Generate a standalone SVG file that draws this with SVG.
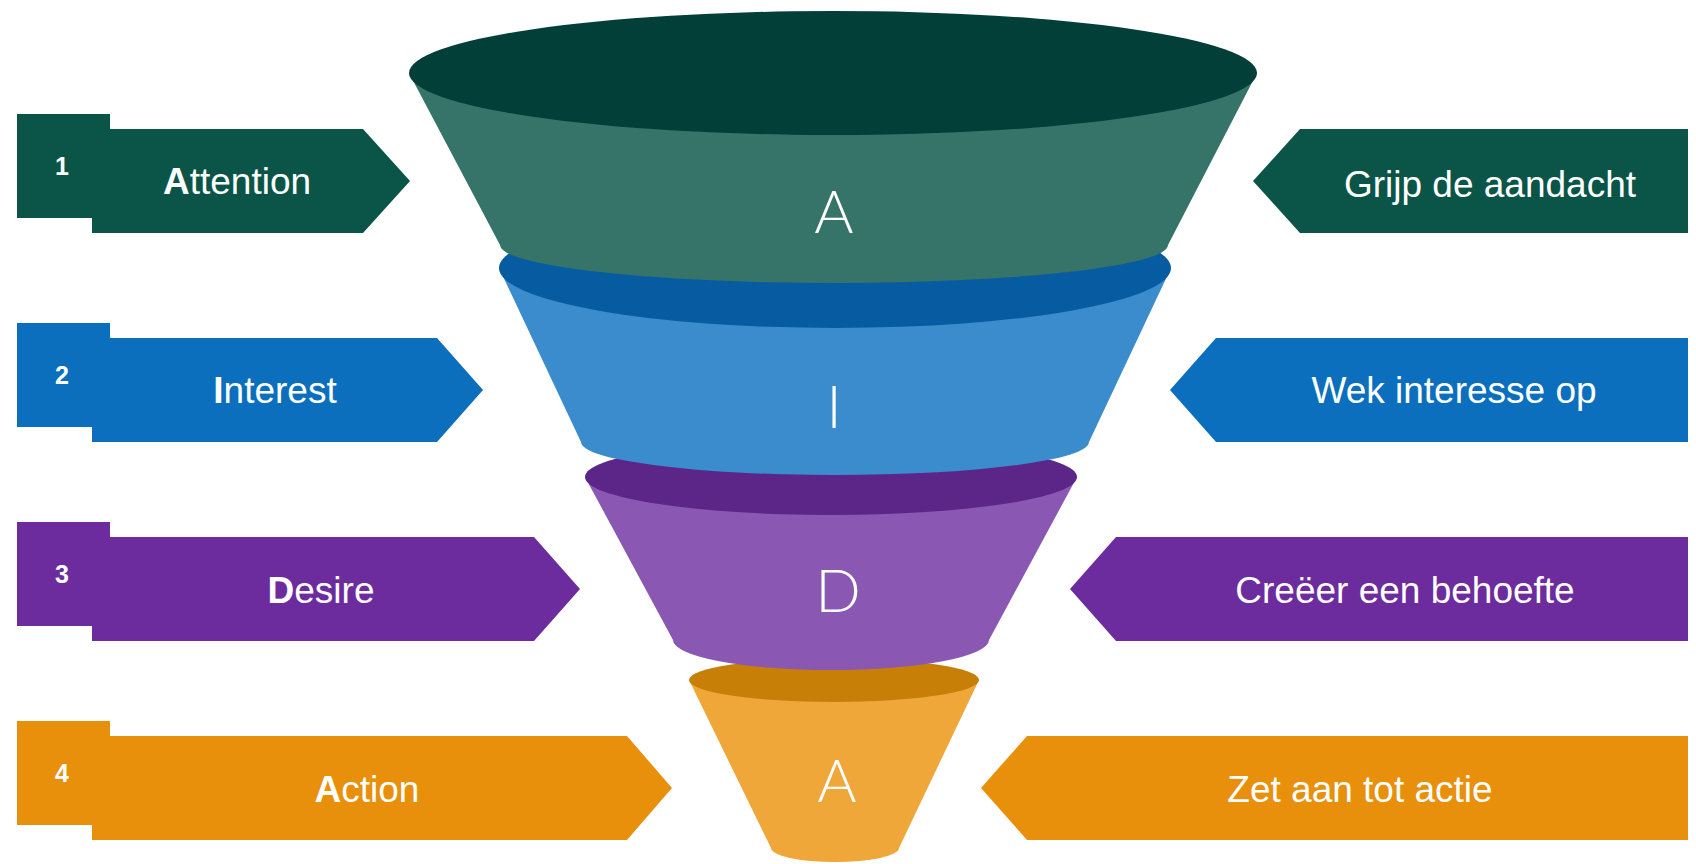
<svg xmlns="http://www.w3.org/2000/svg" width="1696" height="864" viewBox="0 0 1696 864">
<style>
.bg{fill:#ffffff}
.lbl{font-family:"Liberation Sans",Arial,sans-serif;font-size:37px;fill:#ffffff;text-anchor:middle}
.num{font-family:"Liberation Sans",Arial,sans-serif;font-size:25px;font-weight:bold;fill:#ffffff;text-anchor:middle}
.big{font-family:Lato,Roboto,"Liberation Sans",sans-serif;font-weight:300;font-size:60px;fill:#ffffff;text-anchor:middle}
.b{font-weight:bold}
.t-box{fill:#0b5548}.t-top{fill:#033f39}.t-band{fill:#36746a}
.b-box{fill:#0b6fbd}.b-top{fill:#075ba0}.b-band{fill:#3a8ccd}
.p-box{fill:#6c2c9e}.p-top{fill:#5b2688}.p-band{fill:#8a57b3}
.o-box{fill:#e8900c}.o-top{fill:#c87f08}.o-band{fill:#eea738}
</style>
<rect class="bg" x="0" y="0" width="1696" height="864"/>

<g id="funnel">
  <g id="seg-action">
    <path class="o-band" d="M689,680 L771,848 A64,14 0 0 0 899,848 L979,680 Z"/>
    <ellipse class="o-top" cx="834" cy="680" rx="145" ry="22"/>
    <text class="big" x="837" y="802">A</text>
  </g>
  <g id="seg-desire">
    <path class="p-band" d="M585,477 L673,640 A158,30 0 0 0 989,640 L1077,477 Z"/>
    <ellipse class="p-top" cx="831" cy="477" rx="246" ry="38"/>
    <text class="big" x="838" y="612">D</text>
  </g>
  <g id="seg-interest">
    <path class="b-band" d="M499,268 L581,442 A254,33 0 0 0 1089,442 L1171,268 Z"/>
    <ellipse class="b-top" cx="835" cy="268" rx="336" ry="60"/>
    <text class="big" x="834" y="428">I</text>
  </g>
  <g id="seg-attention">
    <path class="t-band" d="M409,73 L500,245 A334,38 0 0 0 1168,245 L1257,73 Z"/>
    <ellipse class="t-top" cx="833" cy="73" rx="424" ry="62"/>
    <text class="big" x="834" y="233">A</text>
  </g>
</g>

<g id="left-labels">
  <g id="l1">
    <polygon class="t-box" points="17,114 110,114 110,129 363,129 410,181 363,233 92,233 92,218 17,218"/>
    <text class="num" x="62" y="175">1</text>
    <text class="lbl" x="237" y="194"><tspan class="b">A</tspan>ttention</text>
  </g>
  <g id="l2">
    <polygon class="b-box" points="17,323 110,323 110,338 437,338 483,390 437,442 92,442 92,427 17,427"/>
    <text class="num" x="62" y="384">2</text>
    <text class="lbl" x="275" y="403"><tspan class="b">I</tspan>nterest</text>
  </g>
  <g id="l3">
    <polygon class="p-box" points="17,522 110,522 110,537 534,537 580,589 534,641 92,641 92,626 17,626"/>
    <text class="num" x="62" y="583">3</text>
    <text class="lbl" x="321" y="603"><tspan class="b">D</tspan>esire</text>
  </g>
  <g id="l4">
    <polygon class="o-box" points="17,721 110,721 110,736 627,736 672,788 627,840 92,840 92,825 17,825"/>
    <text class="num" x="62" y="782">4</text>
    <text class="lbl" x="367" y="802"><tspan class="b">A</tspan>ction</text>
  </g>
</g>

<g id="right-labels">
  <g id="r1">
    <polygon class="t-box" points="1253,181 1300,129 1688,129 1688,233 1300,233"/>
    <text class="lbl" x="1490" y="197">Grijp de aandacht</text>
  </g>
  <g id="r2">
    <polygon class="b-box" points="1170,390 1216,338 1688,338 1688,442 1216,442"/>
    <text class="lbl" x="1454" y="403">Wek interesse op</text>
  </g>
  <g id="r3">
    <polygon class="p-box" points="1070,589 1116,537 1688,537 1688,641 1116,641"/>
    <text class="lbl" x="1405" y="603">Creëer een behoefte</text>
  </g>
  <g id="r4">
    <polygon class="o-box" points="981,788 1027,736 1688,736 1688,840 1027,840"/>
    <text class="lbl" x="1360" y="802">Zet aan tot actie</text>
  </g>
</g>

<g id="connectors"></g>
</svg>
